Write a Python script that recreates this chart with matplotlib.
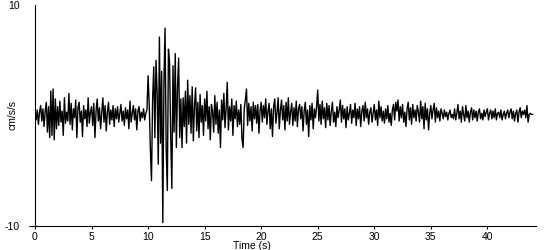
import numpy as np
import matplotlib
matplotlib.use("Agg")
import matplotlib.pyplot as plt

# acceleration trace, one value every 0.1 s (cm/s/s)
DT = 0.1
accel = [
    0.2, -0.4, 0.5, -0.8, 0.3, 0.9, -0.5, 0.6, -1.0, 0.4,
    1.2, -1.5, 0.8, -2.0, 2.2, -1.8, 2.4, -2.2, 1.5, -1.2,
    0.8, -0.9, 1.3, -0.6, 0.4, -1.8, 1.6, -0.7, 0.3, -0.5,
    2.0, -0.8, 1.1, -1.3, 0.6, -0.2, 1.4, -2.0, 0.7, 1.2,
    -0.6, 0.4, -1.9, 0.9, -0.3, 0.5, -1.0, 1.6, -0.7, 0.3,
    0.8, -0.9, 1.1, -2.0, 0.4, 1.5, -0.5, 0.7, -1.2, 0.2,
    1.6, -0.6, 0.9, -1.4, 0.3, 1.2, -0.8, 0.5, -0.4, 0.9,
    -1.0, 0.6, -0.3, 0.8, -0.6, 0.2, 1.0, -0.5, 0.4, -0.9,
    0.7, -0.3, 0.5, -1.2, 1.3, -0.6, 0.2, 0.9, -0.4, 0.6,
    -1.3, 0.4, 0.8, -0.5, 0.3, -0.2, 0.6, -0.4, 0.2, 0.5,
    3.6, 1.0, -3.0, -5.9, 1.5, 4.4, -2.0, 5.0, 2.0, -4.4,
    7.1, -2.5, 4.0, -9.7, 3.0, 7.9, -3.0, -6.8, 6.0, 4.7,
    -2.0, -6.6, 4.5, -1.5, 5.6, -2.9, 2.5, 5.2, -2.0, 1.5,
    -2.9, 1.6, -1.0, 2.2, -2.5, 3.2, -0.8, 1.8, -1.6, 2.6,
    -2.3, 0.8, 2.5, -1.4, 1.2, -2.0, 1.9, -0.6, 0.9, -1.8,
    1.5, -0.5, 2.2, -1.2, 0.8, -2.2, 1.0, 0.4, -1.5, 1.8,
    -0.8, 1.2, -1.6, 0.5, -2.9, 1.4, -0.4, 2.0, -1.1, 0.6,
    3.0, -1.3, 0.8, -0.5, 1.5, -1.8, 0.9, -0.3, 1.3, -1.0,
    0.5, -0.8, 1.0, -2.1, -2.9, 0.6, 1.4, 2.4, -0.9, 1.1,
    -0.5, 0.8, -1.4, 1.2, -0.3, 0.9, -0.7, 1.0, -1.6, 0.4,
    1.2, -0.6, 0.9, -0.2, 1.5, -0.8, 0.4, 1.1, -1.2, 0.6,
    -1.9, 0.8, 1.5, -0.7, 0.3, 1.6, -1.2, 0.5, 1.4, -0.4,
    0.9, -1.3, 1.2, -0.5, 1.6, -0.8, 0.3, 1.1, -0.9, 0.7,
    -0.5, 1.3, -1.0, 0.6, 1.0, -0.3, 0.8, -1.4, 0.4, 1.2,
    -0.8, 0.5, -1.9, 0.9, -0.4, 1.1, -1.2, 0.6, -0.2, 0.8,
    2.3, -0.5, 1.0, -0.8, 1.3, -0.3, 0.7, -1.1, 1.1, -0.4,
    0.9, -0.9, 0.4, 1.2, -0.6, 0.3, -1.0, 0.8, -0.2, 0.5,
    1.4, -0.6, 0.9, -0.3, 0.6, -1.1, 0.8, -0.4, 0.2, 1.0,
    -0.7, 0.5, -0.2, 1.1, -0.9, 0.6, -0.3, 0.8, -1.0, 0.4,
    0.9, -0.5, 1.2, -0.2, 0.6, -0.8, 0.3, 0.7, -0.6, 0.2,
    1.0, -0.4, 0.5, -0.9, 1.3, -0.2, 0.8, -0.5, 0.4, -0.7,
    0.6, -0.3, 0.9, -0.6, 0.2, -0.9, 0.5, 1.0, -0.4, 1.2,
    0.4, 1.4, -0.5, 0.8, -0.2, 1.0, -0.6, 0.3, -1.0, 0.6,
    1.2, -0.4, 0.7, -0.8, 1.0, -0.2, 0.5, -0.5, 0.9, 0.3,
    -0.6, 1.3, -0.3, 0.8, -1.2, 1.1, -0.4, 0.6, -1.3, 0.2,
    0.9, -0.3, 0.5, 1.1, -0.6, 0.7, -0.2, 0.4, -0.5, 0.6,
    0.2, -0.3, 0.5, -0.1, 0.3, -0.4, 0.2, 0.5, -0.2, 0.1,
    -0.3, 0.6, -0.4, 0.2, 1.0, -0.3, 0.4, -0.6, 0.8, 0.1,
    -0.5, 0.9, -0.2, 0.4, -0.6, 0.3, 0.7, -0.4, 0.5, -0.2,
    0.4, -0.5, 0.3, 0.6, -0.3, 0.2, -0.4, 0.5, -0.1, 0.3,
    0.6, -0.4, 0.2, 0.5, -0.3, 0.4, -0.2, 0.6, -0.4, 0.2,
    0.3, -0.2, 0.5, -0.4, 0.1, 0.4, -0.3, 0.2, 0.5, -0.2,
    0.3, 0.6, -0.3, 0.4, -0.5, 0.2, 0.5, -0.6, 0.3, 0.7,
    -0.2, 0.4, 0.1, 0.5, -0.2, 0.9, -0.6, 0.1, 0.2, 0.1,
    0.1,
]
x_ticks = [0, 5, 10, 15, 20, 25, 30, 35, 40]
y_ticks = [-10, 10]

time = np.arange(len(accel)) * DT

plt.rcParams["font.family"] = ["Liberation Sans", "DejaVu Sans"]
plt.rcParams["axes.unicode_minus"] = False
fig = plt.figure(figsize=(5.5, 2.5), dpi=100)
ax = fig.add_axes([35 / 550, 24 / 250, 501 / 550, 221 / 250])

ax.plot(time, accel, color="black", linewidth=1.0)

ax.set_xlim(0, 44.3)
ax.set_ylim(-10, 10)
ax.set_xticks(x_ticks)
ax.set_yticks(y_ticks)
ax.tick_params(labelsize=7.5, width=0.8, direction="out", pad=2)
ax.tick_params(axis="x", length=2.5)
ax.tick_params(axis="y", length=4, pad=7)
# no tick mark at the top value, only its label
ax.yaxis.get_major_ticks()[1].tick1line.set_visible(False)
for side in ["top", "right"]:
    ax.spines[side].set_visible(False)
for side in ["left", "bottom"]:
    ax.spines[side].set_linewidth(0.8)

fig.text(13 / 550, 1 - 115 / 250, "cm/s/s", fontsize=7.5, rotation=90,
         ha="center", va="center")
fig.text(252 / 550, 9 / 250, "Time (s)", fontsize=7.5, ha="center", va="top")

fig.savefig("out.png", dpi=100, facecolor="white")
